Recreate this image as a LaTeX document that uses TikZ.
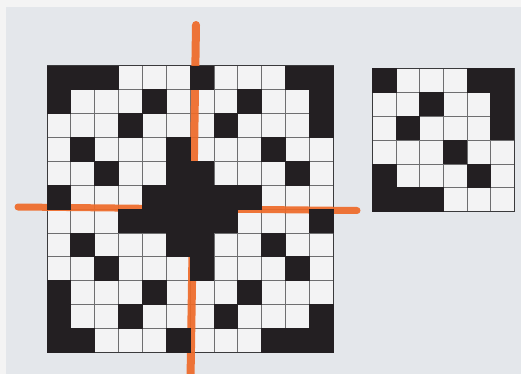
\documentclass[tikz,border=0pt]{standalone}
\definecolor{paper}{HTML}{E4E7EB}
\definecolor{rim}{HTML}{F4F4F4}
\definecolor{ink}{HTML}{231F22}
\definecolor{cellw}{HTML}{F3F3F4}
\definecolor{gline}{HTML}{6E6E70}
\definecolor{gedge}{HTML}{3A3A3C}
\definecolor{marker}{HTML}{EE6A28}
\tikzset{
  gridline/.style={gline, line width=0.8pt},
  gridedge/.style={gedge, line width=1pt},
  inkcell/.style={fill=ink},
  markerline/.style={marker, line cap=round, opacity=0.92}
}
\begin{document}
\begin{tikzpicture}[x=1pt,y=-1pt]
\useasboundingbox (0,0) rectangle (521,374);
\fill[rim] (0,0) rectangle (521,374);
\fill[paper] (6,7) rectangle (521,374);
% ---------- large grid 12x12 ----------
\def\LX{47}\def\LY{66}\def\LC{23.85}
\fill[cellw] (\LX,\LY) rectangle ({\LX+12*\LC},{\LY+12*\LC});
\foreach \i in {1,...,11}{
  \draw[gridline] ({\LX+\i*\LC},\LY) -- ({\LX+\i*\LC},{\LY+12*\LC});
  \draw[gridline] (\LX,{\LY+\i*\LC}) -- ({\LX+12*\LC},{\LY+\i*\LC});
}
\draw[gridedge] (\LX,\LY) rectangle ({\LX+12*\LC},{\LY+12*\LC});
% ---------- small grid 6x6 ----------
\def\SX{372.7}\def\SY{68.3}\def\SW{23.55}\def\SH{23.9}
\fill[cellw] (\SX,\SY) rectangle ({\SX+6*\SW},{\SY+6*\SH});
\foreach \i in {1,...,5}{
  \draw[gridline] ({\SX+\i*\SW},\SY) -- ({\SX+\i*\SW},{\SY+6*\SH});
  \draw[gridline] (\SX,{\SY+\i*\SH}) -- ({\SX+6*\SW},{\SY+\i*\SH});
}
\draw[gridedge] (\SX,\SY) rectangle ({\SX+6*\SW},{\SY+6*\SH});
% ---------- orange marker lines ----------
\draw[markerline, line width=8pt] (196,25) -- (190.5,380);
\draw[markerline, line width=7pt] (18,207) -- (357,210.5);
% ---------- black cells ----------
\foreach \r/\cols in {0/{0,1,2,6,10,11},1/{0,4,8,11},2/{3,7,11},3/{1,5,9},
  4/{2,5,6,10},5/{0,4,5,6,7,8},6/{3,4,5,6,7,11},7/{1,5,6,9},8/{2,6,10},
  9/{0,4,8},10/{0,3,7,11},11/{0,1,5,9,10,11}}{
  \foreach \c in \cols{
    \fill[inkcell] ({\LX+\c*\LC-0.4},{\LY+\r*\LC-0.4}) rectangle ++(24.65,24.65);
  }
}
\foreach \r/\cols in {0/{0,4,5},1/{2,5},2/{1,5},3/{3},4/{0,4},5/{0,1,2}}{
  \foreach \c in \cols{
    \fill[inkcell] ({\SX+\c*\SW-0.4},{\SY+\r*\SH-0.4}) rectangle ++(24.35,24.7);
  }
}
\end{tikzpicture}
\end{document}
